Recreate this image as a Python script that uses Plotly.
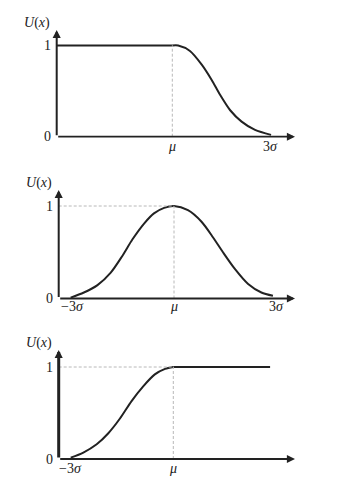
import plotly.graph_objects as go

# ---- data (x in units of sigma, mu = 0) ----
P1_X = [0, 0.18, 0.54, 0.90, 1.2, 1.46, 1.77, 2.12, 2.53, 3.02]
P1_U = [1.0, 1.0, 0.94, 0.79, 0.625, 0.46, 0.29, 0.165, 0.074, 0.02]
P1_FLAT_X = [-3.53, 0]
P1_FLAT_U = [1, 1]

P2_X = [-3.04, -2.65, -2.25, -1.86, -1.52, -1.22, -0.88, -0.59, -0.29, 0,
        0.41, 0.81, 1.15, 1.44, 1.79, 2.18, 2.57, 2.91]
P2_U = [0.01, 0.065, 0.145, 0.28, 0.46, 0.64, 0.81, 0.92, 0.98, 1.0,
        0.955, 0.83, 0.66, 0.50, 0.32, 0.157, 0.065, 0.03]

P3_X = [-3.0, -2.63, -2.24, -1.9, -1.56, -1.22, -0.88, -0.54, -0.24, 0]
P3_U = [0.015, 0.07, 0.16, 0.28, 0.44, 0.63, 0.79, 0.92, 0.98, 1.0]
P3_FLAT_X = [0, 2.83]
P3_FLAT_U = [1, 1]

P1_TICKS = [(0, "<i>μ</i>"), (3, "3<i>σ</i>")]
P2_TICKS = [(-3, "−3<i>σ</i>"), (0, "<i>μ</i>"), (3, "3<i>σ</i>")]
P3_TICKS = [(-3, "−3<i>σ</i>"), (0, "<i>μ</i>")]
Y_TICKS = [(0, "0"), (1, "1")]
Y_TITLE = "<i>U</i>(<i>x</i>)"

W, H = 350, 500
XR = (-4.0, 4.0)
YR = (-0.1, 1.25)

# layout params per panel (pixel positions)
panels = [
    dict(mu=172.3, sg=32.7, y0=136.7, s=91.2, left=56.7, tip=295, top=30, yw=2,
         ticks=P1_TICKS, xl=10, guides="v"),
    dict(mu=174.0, sg=34.0, y0=298.5, s=92.5, left=58.7, tip=295, top=190, yw=2,
         ticks=P2_TICKS, xl=8, guides="hv"),
    dict(mu=173.3, sg=34.2, y0=459.0, s=92.0, left=58.7, tip=295, top=350, yw=3,
         ticks=P3_TICKS, xl=9, guides="hv"),
]
curves = [
    [(P1_FLAT_X, P1_FLAT_U, "linear"), (P1_X, P1_U, "spline")],
    [(P2_X, P2_U, "spline")],
    [(P3_X, P3_U, "spline"), (P3_FLAT_X, P3_FLAT_U, "linear")],
]

fig = go.Figure()
layout = dict(width=W, height=H, margin=dict(l=0, r=0, t=0, b=0),
              paper_bgcolor="white", plot_bgcolor="rgba(0,0,0,0)",
              showlegend=False, autosize=False)
annotations = []
shapes = []
INK = "#222222"
FONT = dict(family="Liberation Serif", size=14, color=INK)
GUIDE = dict(color="#b8b8b8", width=1, dash="3px,2px")

for i, p in enumerate(panels):
    n = i + 1
    xa = "x" if n == 1 else f"x{n}"
    ya = "y" if n == 1 else f"y{n}"
    xk = "xaxis" if n == 1 else f"xaxis{n}"
    yk = "yaxis" if n == 1 else f"yaxis{n}"
    xd = [(p["mu"] + XR[0] * p["sg"]) / W, (p["mu"] + XR[1] * p["sg"]) / W]
    yd = [(H - (p["y0"] - YR[0] * p["s"])) / H, (H - (p["y0"] - YR[1] * p["s"])) / H]
    layout[xk] = dict(domain=xd, range=list(XR), visible=False, anchor=ya)
    layout[yk] = dict(domain=yd, range=list(YR), visible=False, anchor=xa)

    left = (p["left"] - p["mu"]) / p["sg"]
    tip = (p["tip"] - p["mu"]) / p["sg"]
    top = (p["y0"] - p["top"]) / p["s"]

    # guide lines
    shapes.append(dict(type="line", xref=xa, yref=ya, x0=0, x1=0, y0=0, y1=1, line=GUIDE))
    if "h" in p["guides"]:
        shapes.append(dict(type="line", xref=xa, yref=ya, x0=left, x1=0, y0=1, y1=1, line=GUIDE))

    for cx, cu, shape in curves[i]:
        fig.add_trace(go.Scatter(x=cx, y=cu, mode="lines", xaxis=xa, yaxis=ya,
                                 line=dict(color=INK, width=2, shape=shape, smoothing=0.8),
                                 hoverinfo="skip", cliponaxis=False))

    # axes with arrows
    annotations.append(dict(x=tip, y=0, ax=left, ay=0, xref=xa, yref=ya, axref=xa, ayref=ya,
                            text="", showarrow=True, arrowhead=2, arrowsize=0.9,
                            arrowwidth=1.8, arrowcolor=INK, standoff=0, startstandoff=0))
    annotations.append(dict(x=left, y=top, ax=left, ay=0, xref=xa, yref=ya, axref=xa, ayref=ya,
                            text="", showarrow=True, arrowhead=2, arrowsize=0.9 * 1.8 / p["yw"],
                            arrowwidth=p["yw"], arrowcolor=INK, standoff=0, startstandoff=0))
    # y tick labels
    for v, t in Y_TICKS:
        annotations.append(dict(x=left, y=v, xref=xa, yref=ya, text=t, showarrow=False,
                                xanchor="center", yanchor="middle", xshift=-9, font=FONT))
    # x tick labels
    for v, t in p["ticks"]:
        annotations.append(dict(x=v, y=0, xref=xa, yref=ya, text=t, showarrow=False,
                                xanchor="center", yanchor="middle", yshift=-p["xl"], font=FONT))
    # y title
    annotations.append(dict(x=left, y=top, xref=xa, yref=ya, text=Y_TITLE, showarrow=False,
                            xanchor="center", yanchor="middle", xshift=-20, yshift=7, font=FONT))

layout["annotations"] = annotations
layout["shapes"] = shapes
fig.update_layout(**layout)
fig.write_html("out.html")
